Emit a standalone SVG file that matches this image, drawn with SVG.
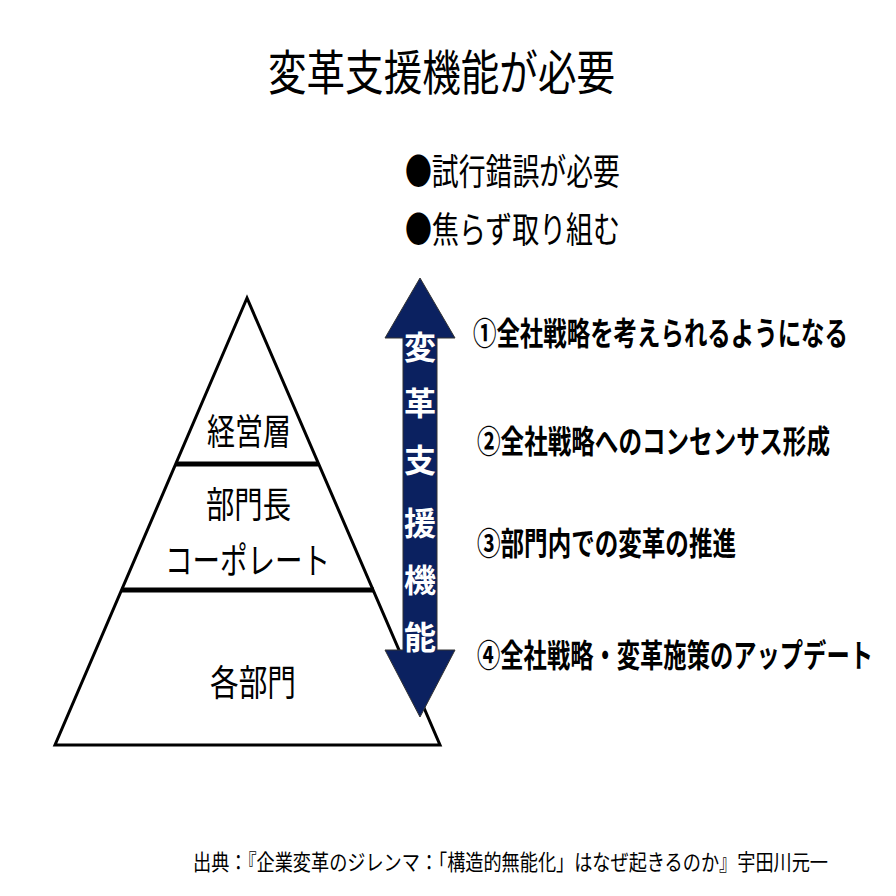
<svg xmlns="http://www.w3.org/2000/svg" width="896" height="896" viewBox="0 0 896 896">
<style>
text{font-family:"Noto Sans CJK JP","Noto Sans",sans-serif;fill:#000}
.b{font-weight:bold}
.w{fill:#fff;font-weight:bold;font-size:32px;text-anchor:middle}
.p{font-size:36px}
</style>
<rect width="896" height="896" fill="#fff"/>
<g id="title"><text x="268" y="90" font-size="48" textLength="347" lengthAdjust="spacingAndGlyphs">変革支援機能が必要</text></g>
<g id="bullets">
<text x="405" y="185" font-size="36" textLength="215" lengthAdjust="spacingAndGlyphs">●試行錯誤が必要</text>
<text x="405" y="243" font-size="36" textLength="215" lengthAdjust="spacingAndGlyphs">●焦らず取り組む</text>
</g>
<g id="pyramid">
<polygon points="247,298 55,745 440,745" fill="#fff" stroke="#000" stroke-width="3"/>
<line x1="176" y1="464" x2="318" y2="464" stroke="#000" stroke-width="5"/>
<line x1="121" y1="590" x2="374" y2="590" stroke="#000" stroke-width="5"/>
<text class="p" x="207" y="445" textLength="84" lengthAdjust="spacingAndGlyphs">経営層</text>
<text class="p" x="206" y="518" textLength="85" lengthAdjust="spacingAndGlyphs">部門長</text>
<text class="p" x="165" y="574" textLength="165" lengthAdjust="spacingAndGlyphs">コーポレート</text>
<text class="p" x="210" y="696" textLength="86" lengthAdjust="spacingAndGlyphs">各部門</text>
</g>
<g id="arrow">
<polygon points="420,278 455,338 437,338 437,650 455,650 420,717 385,650 403,650 403,338 385,338" fill="#0b2160" stroke="#333" stroke-width="1"/>
<text class="w" x="420" y="359">変</text>
<text class="w" x="420" y="415">革</text>
<text class="w" x="420" y="472">支</text>
<text class="w" x="420" y="535">援</text>
<text class="w" x="420" y="592">機</text>
<text class="w" x="420" y="649">能</text>
</g>
<g id="items">
<text class="b" x="473" y="345" font-size="32" textLength="375" lengthAdjust="spacingAndGlyphs">①全社戦略を考えられるようになる</text>
<text class="b" x="477" y="453" font-size="32" textLength="353" lengthAdjust="spacingAndGlyphs">②全社戦略へのコンセンサス形成</text>
<text class="b" x="477" y="555" font-size="32" textLength="259" lengthAdjust="spacingAndGlyphs">③部門内での変革の推進</text>
<text class="b" x="477" y="667" font-size="32" textLength="396" lengthAdjust="spacingAndGlyphs">④全社戦略・変革施策のアップデート</text>
</g>
<g id="source"><text x="193" y="870" font-size="22" textLength="635" lengthAdjust="spacingAndGlyphs">出典：『企業変革のジレンマ：「構造的無能化」はなぜ起きるのか』宇田川元一</text></g>
</svg>
